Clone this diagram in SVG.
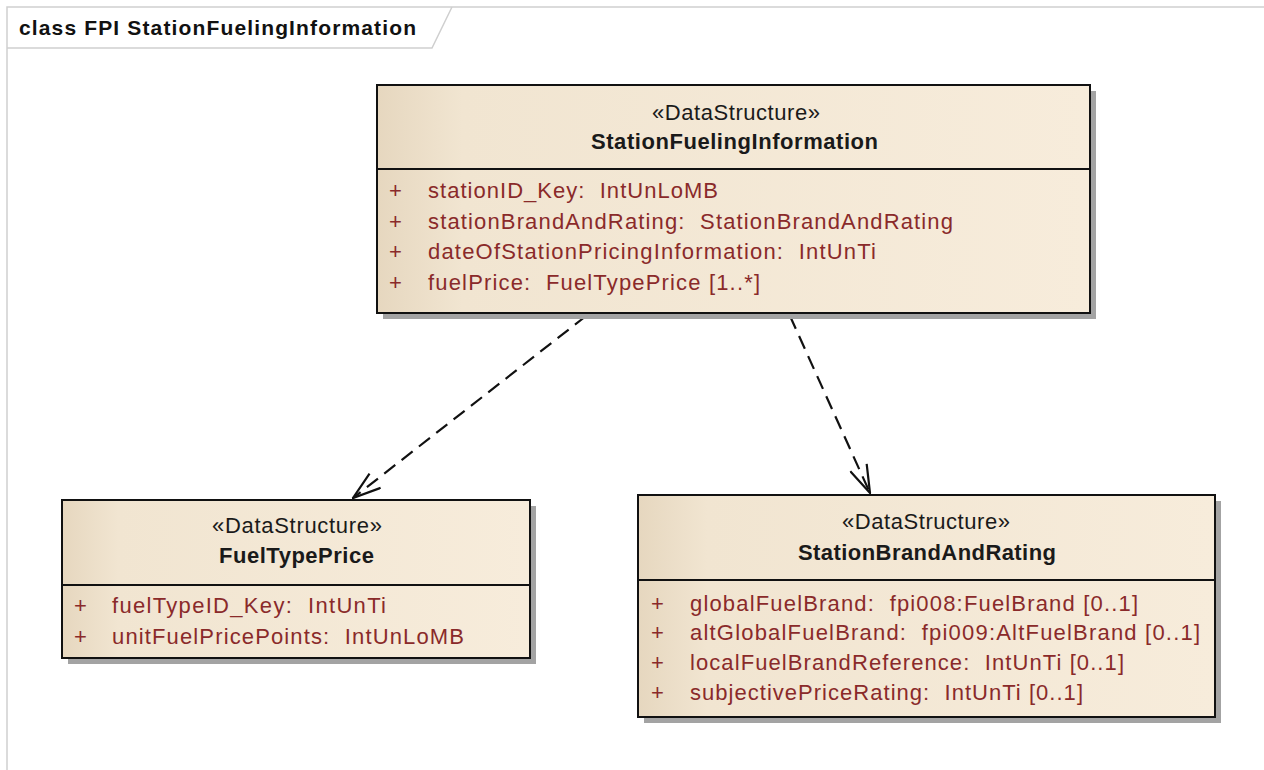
<svg xmlns="http://www.w3.org/2000/svg" width="1264" height="770" viewBox="0 0 1264 770">
<style>
.frame{fill:none;stroke:#cfcfcf;stroke-width:1.5}
.box{stroke:#111;stroke-width:2;fill:url(#fill)}
.shadow{fill:#a3a3a3}
.div{stroke:#111;stroke-width:2}
.title{font-family:"Liberation Sans",Arial,sans-serif;font-weight:bold;font-size:21px;fill:#111}
.st{font-family:"Liberation Sans",Arial,sans-serif;font-size:22px;fill:#1a1a1a}
.nm{font-family:"Liberation Sans",Arial,sans-serif;font-weight:bold;font-size:22px;fill:#1a1a1a}
.at{font-family:"Liberation Sans",Arial,sans-serif;font-size:22px;fill:#8a2a2a;white-space:pre}
.dep{fill:none;stroke:#111;stroke-width:2.2;stroke-dasharray:14 8;marker-end:url(#open)}
</style>
<defs>
<linearGradient id="fill" x1="0" y1="0" x2="1" y2="0">
<stop offset="0" stop-color="#e6d7bf"/>
<stop offset="0.12" stop-color="#f1e5d1"/>
<stop offset="1" stop-color="#f7ecdb"/>
</linearGradient>
<marker id="open" markerUnits="userSpaceOnUse" viewBox="0 0 30 20" refX="29" refY="10" markerWidth="30" markerHeight="20" orient="auto">
<path d="M1,1 L29,10 L1,19" fill="none" stroke="#111" stroke-width="2.2"/>
</marker>
</defs>
<rect width="1264" height="770" fill="#ffffff"/>
<g id="frame">
<rect class="frame" x="7" y="7" width="1270" height="800"/>
<polyline class="frame" points="7,48 432,48 452,7"/>
<text class="title" x="19" y="35" textLength="397">class FPI StationFuelingInformation</text>
</g>
<g id="connectors">
<line class="dep" x1="586" y1="316" x2="353" y2="498"/>
<line class="dep" x1="790" y1="316" x2="870" y2="493"/>
</g>
<g id="StationFuelingInformation">
<rect class="shadow" x="383" y="91" width="713" height="228"/>
<rect class="box" x="377" y="85" width="713" height="228"/>
<line class="div" x1="377" y1="169" x2="1090" y2="169"/>
<text class="st" x="652" y="120" textLength="168">«DataStructure»</text>
<text class="nm" x="591" y="149" textLength="287">StationFuelingInformation</text>
<text class="at" x="389" y="198">+</text>
<text class="at" x="389" y="228.5">+</text>
<text class="at" x="389" y="259">+</text>
<text class="at" x="389" y="289.5">+</text>
<text class="at" x="428" y="198" textLength="290">stationID_Key:  IntUnLoMB</text>
<text class="at" x="428" y="228.5" textLength="525">stationBrandAndRating:  StationBrandAndRating</text>
<text class="at" x="428" y="259" textLength="448">dateOfStationPricingInformation:  IntUnTi</text>
<text class="at" x="428" y="289.5" textLength="332">fuelPrice:  FuelTypePrice [1..*]</text>
</g>
<g id="FuelTypePrice">
<rect class="shadow" x="68" y="506" width="468" height="158"/>
<rect class="box" x="62" y="500" width="468" height="158"/>
<line class="div" x1="62" y1="585" x2="530" y2="585"/>
<text class="st" x="212" y="533" textLength="170">«DataStructure»</text>
<text class="nm" x="219" y="563" textLength="155">FuelTypePrice</text>
<text class="at" x="74" y="612.5">+</text>
<text class="at" x="74" y="643.5">+</text>
<text class="at" x="112" y="612.5" textLength="274">fuelTypeID_Key:  IntUnTi</text>
<text class="at" x="112" y="643.5" textLength="352">unitFuelPricePoints:  IntUnLoMB</text>
</g>
<g id="StationBrandAndRating">
<rect class="shadow" x="644" y="501" width="577" height="222"/>
<rect class="box" x="638" y="495" width="577" height="222"/>
<line class="div" x1="638" y1="580" x2="1215" y2="580"/>
<text class="st" x="842" y="529" textLength="168">«DataStructure»</text>
<text class="nm" x="798" y="560" textLength="258">StationBrandAndRating</text>
<text class="at" x="651" y="610.5">+</text>
<text class="at" x="651" y="639.5">+</text>
<text class="at" x="651" y="669.5">+</text>
<text class="at" x="651" y="699.5">+</text>
<text class="at" x="690" y="610.5" textLength="448">globalFuelBrand:  fpi008:FuelBrand [0..1]</text>
<text class="at" x="690" y="639.5" textLength="510">altGlobalFuelBrand:  fpi009:AltFuelBrand [0..1]</text>
<text class="at" x="690" y="669.5" textLength="434">localFuelBrandReference:  IntUnTi [0..1]</text>
<text class="at" x="690" y="699.5" textLength="393">subjectivePriceRating:  IntUnTi [0..1]</text>
</g>
</svg>
